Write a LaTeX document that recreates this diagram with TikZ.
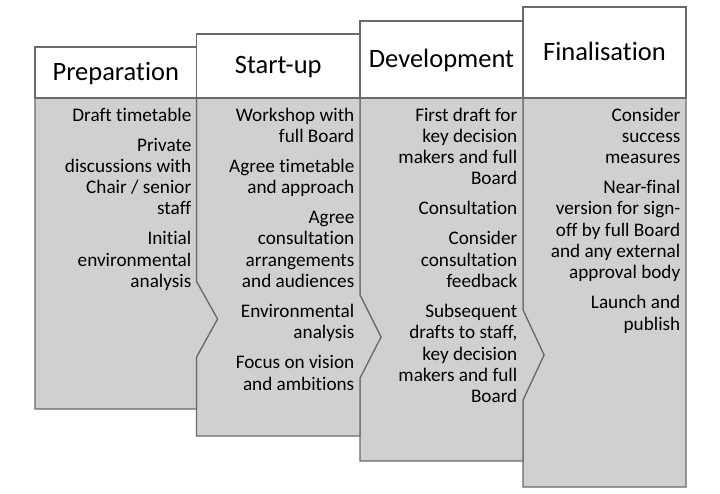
\documentclass[tikz,border=0pt]{standalone}
\usepackage{fontspec}
\setmainfont{Carlito}[Ligatures={NoCommon}]
\definecolor{boxfill}{HTML}{D0D0D0}
\definecolor{boxline}{HTML}{6A6A6A}
\begin{document}
\begin{tikzpicture}[x=1pt,y=-1pt,
  stagebody/.style={draw=boxline,fill=boxfill,line width=1.2pt,line join=miter},
  stagehead/.style={draw=boxline,fill=white,line width=1.2pt},
  headtext/.style={anchor=base,inner sep=0pt,font=\fontsize{26.5}{30}\selectfont,text=black},
  itemtext/.style={anchor=north east,inner sep=0pt,align=right,font=\fontsize{19.2}{21.3}\selectfont,text=black}]
\useasboundingbox (0,0) rectangle (720,494);
% bodies
\path[stagebody] (523,98) -- (686,98) -- (686,487) -- (523,487) -- (523,400) -- (544,355) -- (523,310) -- cycle;
\path[stagebody] (360,98) -- (523,98) -- (523,310) -- (544,355) -- (523,400) -- (523,461) -- (360,461) -- (360,378) -- (381,337) -- (360,295) -- cycle;
\path[stagebody] (196.5,98) -- (360,98) -- (360,295) -- (381,337) -- (360,378) -- (360,436) -- (196.5,436) -- (196.5,357) -- (217.5,319) -- (196.5,281.5) -- cycle;
\path[stagebody] (35,98) -- (196.5,98) -- (196.5,281.5) -- (217.5,319) -- (196.5,357) -- (196.5,409) -- (35,409) -- cycle;
% headers
\path[stagehead] (35,47) rectangle (196.5,98);
\path[stagehead] (196.5,34) rectangle (360,98);
\path[stagehead] (360,21) rectangle (523,98);
\path[stagehead] (523,7) rectangle (686,98);
\node[headtext] (hprep) at (115.75,80.5) {Preparation};
\node[headtext] (hstart) at (278.25,74) {Start-up};
\node[headtext] (hdev) at (441.5,67.5) {Development};
\node[headtext] (hfin) at (604.5,60.5) {Finalisation};
% items
\node[itemtext] (iprep) at (191.5,107.5) {Draft timetable\\[8.7pt]
Private\\discussions with\\Chair / senior\\staff\\[8.7pt]
Initial\\environmental\\analysis};
\node[itemtext] (istart) at (354.5,107.5) {Workshop with\\full Board\\[8.7pt]
Agree timetable\\and approach\\[8.7pt]
Agree\\consultation\\arrangements\\and audiences\\[8.7pt]
Environmental\\analysis\\[8.7pt]
Focus on vision\\and ambitions};
\node[itemtext] (idev) at (517.5,107.5) {First draft for\\key decision\\makers and full\\Board\\[8.7pt]
Consultation\\[8.7pt]
Consider\\consultation\\feedback\\[8.7pt]
Subsequent\\drafts to staff,\\key decision\\makers and full\\Board};
\node[itemtext] (ifin) at (680.5,107.5) {Consider\\success\\measures\\[8.7pt]
Near-final\\version for sign-\\off by full Board\\and any external\\approval body\\[8.7pt]
Launch and\\publish};
\end{tikzpicture}
\end{document}
